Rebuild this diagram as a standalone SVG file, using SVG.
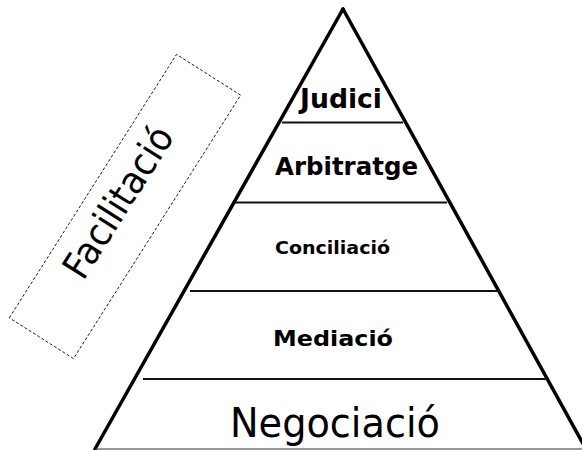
<svg xmlns="http://www.w3.org/2000/svg" width="582" height="450" viewBox="0 0 582 450">
<style>
.edge{stroke:#000;stroke-width:3.5;fill:none;stroke-linecap:round}
.tier{stroke:#111;stroke-width:2;fill:none}
.base{stroke:#333;stroke-width:1.2;fill:none}
.lbl{font-family:"DejaVu Sans","Liberation Sans",sans-serif;font-weight:bold;fill:#000;text-anchor:middle}
.big{font-family:"DejaVu Sans","Liberation Sans",sans-serif;fill:#000;text-anchor:middle}
.dash{stroke:#000;stroke-width:0.8;stroke-dasharray:3,2;fill:none}
</style>
<rect width="582" height="450" fill="#fff"/>
<g id="pyramid-outline">
<line class="edge" x1="343" y1="9" x2="95" y2="449"/>
<line class="edge" x1="343" y1="9" x2="586" y2="449"/>
<line class="base" x1="95" y1="449" x2="582" y2="449"/>
</g>
<g id="tiers">
<line class="tier" x1="282" y1="122.5" x2="403" y2="122.5"/>
<line class="tier" x1="235" y1="202.5" x2="447" y2="202.5"/>
<line class="tier" x1="190" y1="291" x2="499" y2="291"/>
<line class="tier" x1="143" y1="379" x2="548" y2="379"/>
</g>
<g id="judici"><text class="lbl" x="341" y="108" font-size="26" textLength="82" lengthAdjust="spacingAndGlyphs">Judici</text></g>
<g id="arbitratge"><text class="lbl" x="346.5" y="175" font-size="25" textLength="143" lengthAdjust="spacingAndGlyphs">Arbitratge</text></g>
<g id="conciliacio"><text class="lbl" x="332.5" y="254" font-size="18" textLength="115" lengthAdjust="spacingAndGlyphs">Conciliació</text></g>
<g id="mediacio"><text class="lbl" x="333" y="346" font-size="22" textLength="120" lengthAdjust="spacingAndGlyphs">Mediació</text></g>
<g id="negociacio"><text class="big" x="335" y="437" font-size="40" textLength="210" lengthAdjust="spacingAndGlyphs">Negociació</text></g>
<g id="facilitacio" transform="translate(125,206.5) rotate(-57.6)">
<rect class="dash" x="-156" y="-38" width="312" height="76"/>
<text class="big" x="0" y="5" font-size="38" textLength="172" lengthAdjust="spacingAndGlyphs">Facilitació</text>
</g>
</svg>
